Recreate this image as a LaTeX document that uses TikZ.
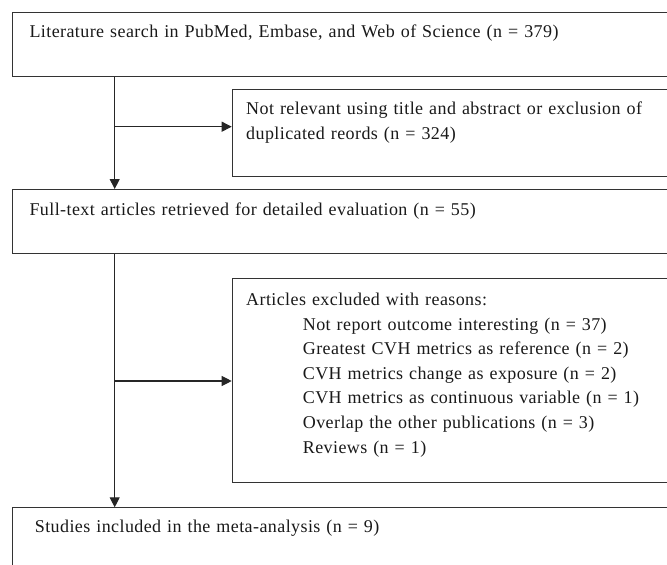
\documentclass[tikz,border=0pt]{standalone}
\usepackage{fontspec}
\setmainfont{Liberation Serif}[LetterSpace=2.3]
\usetikzlibrary{arrows.meta,positioning}

\begin{document}
\begin{tikzpicture}[x=0.75pt,y=-0.75pt,>=Stealth, every node/.style={font=\fontsize{13.5}{18.45}\selectfont}]
    \tikzset{flowbox/.style={draw,black!80,line width=0.75pt,text=black!90,anchor=north west,align=left,inner ysep=0pt}}
    \tikzset{wide/.style={minimum width=516pt,text width=490pt}}
    \tikzset{half/.style={minimum width=351pt,text width=330pt}}
    \tikzset{flowarrow/.style={black!85,line width=0.8pt,-{Triangle[length=7.5pt,width=7.5pt]}}}

    \useasboundingbox (0,0) rectangle (667,564);
    \clip (0,0) rectangle (667,564);

    % Left column (main stream)
    \node[flowbox,wide,inner xsep=8.5pt,text height=18.75pt,text depth=28.8pt] (search) at (11.7,12.3)
        {Literature search in PubMed, Embase, and Web of Science (n = 379)};
    \node[flowbox,wide,inner xsep=8.5pt,text height=19.5pt,text depth=28.3pt] (fulltext) at (11.7,189)
        {Full-text articles retrieved for detailed evaluation (n = 55)};
    \node[flowbox,wide,inner xsep=17pt,text height=18.3pt,text depth=51pt] (included) at (11.7,507.3)
        {Studies included in the meta-analysis (n = 9)};

    % Right column (exclusions)
    \node[flowbox,half,inner xsep=9.5pt,text height=19pt,text depth=46.3pt] (notrel) at (231.7,89)
        {Not relevant using title and abstract or exclusion of\\duplicated reords (n = 324)};
    \node[flowbox,half,inner xsep=9.5pt,text height=20pt,text depth=132.5pt] (excluded) at (231.7,278.3)
        {Articles excluded with reasons:\\
         \hspace*{42.5pt}Not report outcome interesting (n = 37)\\
         \hspace*{42.5pt}Greatest CVH metrics as reference (n = 2)\\
         \hspace*{42.5pt}CVH metrics change as exposure (n = 2)\\
         \hspace*{42.5pt}CVH metrics as continuous variable (n = 1)\\
         \hspace*{42.5pt}Overlap the other publications (n = 3)\\
         \hspace*{42.5pt}Reviews (n = 1)};

    % Branch points on the spine
    \coordinate (split1) at (114.7,126.7);
    \coordinate (split2) at (114.7,381);

    % Spine arrows
    \draw[flowarrow] (search.south -| split1) -- (fulltext.north -| split1);
    \draw[flowarrow] (fulltext.south -| split2) -- (included.north -| split2);

    % Side arrows to the exclusion boxes
    \draw[flowarrow] (split1) -- (split1 -| notrel.west);
    \draw[flowarrow] (split2) -- (split2 -| excluded.west);
\end{tikzpicture}
\end{document}
